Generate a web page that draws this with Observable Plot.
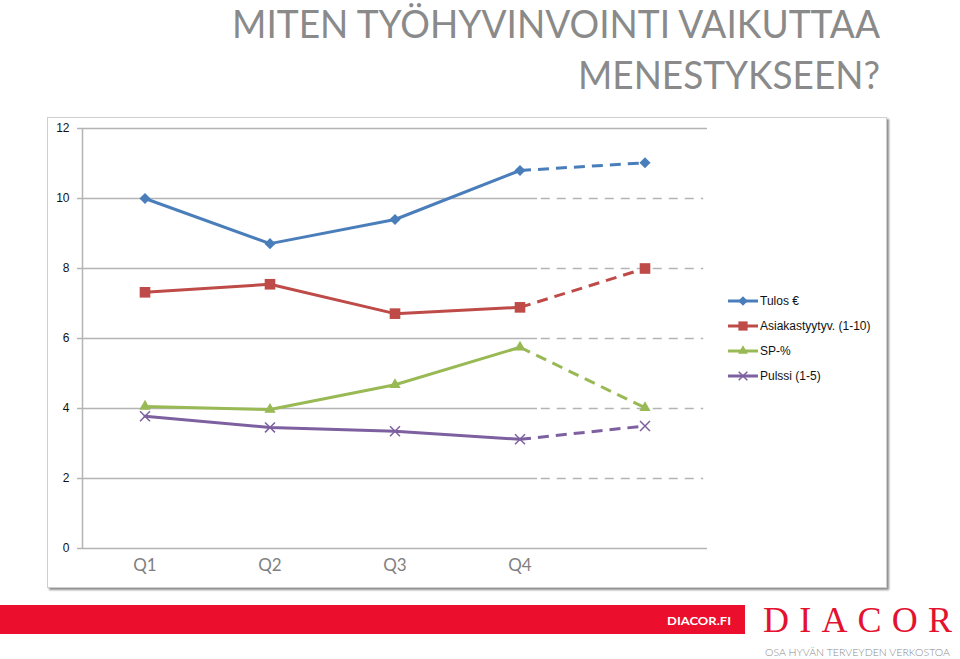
<!DOCTYPE html>
<html>
<head>
<meta charset="utf-8">
<script src="https://cdn.jsdelivr.net/npm/d3@7"></script>
<script src="https://cdn.jsdelivr.net/npm/@observablehq/plot@0.6"></script>
<style>
html, body { margin: 0; padding: 0; background: #fff; }
#wrap { position: relative; width: 960px; height: 659px; overflow: hidden; font-family: "Liberation Sans", Arial, sans-serif; }
#frame { position: absolute; left: 47px; top: 117px; width: 840px; height: 471px; box-sizing: border-box;
  border: 1px solid #cfcfcf; box-shadow: 2px 2px 2px rgba(0,0,0,0.45); background: #fff; }
#title { position: absolute; left: 0; top: 0; }
#chart { position: absolute; left: 0; top: 110px; }
#legend { position: absolute; left: 720px; top: 286px; }
#footer { position: absolute; left: 0; top: 595px; }
</style>
</head>
<body>
<div id="wrap">
  <svg id="title" width="960" height="100"></svg>
  <div id="frame"></div>
  <div id="chart"></div>
  <svg id="legend" width="200" height="105"></svg>
  <svg id="footer" width="960" height="64"></svg>
</div>
<script>
// ---- data ----
const quarters = ["Q1", "Q2", "Q3", "Q4", ""];
const seriesNames = ["Tulos €", "Asiakastyytyv. (1-10)", "SP-%", "Pulssi (1-5)"];
const tulos   = [10.0, 8.71, 9.4, 10.8, 11.02];
const asiakas = [7.32, 7.55, 6.71, 6.89, 8.0];
const sp      = [4.06, 3.97, 4.68, 5.75, 4.02];
const pulssi  = [3.78, 3.46, 3.35, 3.12, 3.5];
const yTicks  = [0, 2, 4, 6, 8, 10, 12];
const titleLines = ["MITEN TYÖHYVINVOINTI VAIKUTTAA", "MENESTYKSEEN?"];
const footerTexts = ["DIACOR.FI", "DIACOR", "OSA HYVÄN TERVEYDEN VERKOSTOA"];

// ---- styles ----
const seriesValues = [tulos, asiakas, sp, pulssi];
const colors = ["#4a7ebb", "#be4b48", "#98b954", "#7d60a0"];
const symbols = ["diamond2", "square", "triangle", "times"];
const symbolRadius = [5, 6, 4.2, 4.6];
const forecastFrom = 3; // lines are dashed from Q4 onwards
const gridColor = "#b4b4b4";
const font = '"Liberation Sans", Arial, sans-serif';

const rows = seriesNames.flatMap((s, k) => seriesValues[k].map((v, i) => ({series: s, i, v})));
const solid = rows.filter(d => d.i <= forecastFrom);
const dashed = rows.filter(d => d.i >= forecastFrom);

const xDomain = [-0.5, quarters.length - 0.5];
const gridSolidEnd = 3.14, gridDashStart = 3.17, gridDashEnd = 4.47;
const innerTicks = yTicks.filter(t => t > yTicks[0] && t < yTicks[yTicks.length - 1]);
const edgeTicks = [yTicks[0], yTicks[yTicks.length - 1]];
const labelIdx = quarters.map((q, i) => i).filter(i => quarters[i] !== "");

const chart = Plot.plot({
  width: 960, height: 480,
  marginLeft: 82, marginRight: 253, marginTop: 18, marginBottom: 42,
  style: {fontFamily: font, background: "transparent", overflow: "visible"},
  x: {type: "linear", domain: xDomain},
  y: {domain: [yTicks[0], yTicks[yTicks.length - 1]]},
  color: {domain: seriesNames, range: colors},
  marks: [
    Plot.ruleY(innerTicks, {x1: xDomain[0], x2: gridSolidEnd, stroke: gridColor, strokeWidth: 1.5}),
    Plot.ruleY(innerTicks, {x1: gridDashStart, x2: gridDashEnd, stroke: gridColor, strokeWidth: 1.5, strokeDasharray: "9,7"}),
    Plot.ruleY(edgeTicks, {stroke: gridColor, strokeWidth: 1.5}),
    Plot.ruleX([xDomain[0]], {stroke: gridColor, strokeWidth: 1.5}),
    Plot.axisY({ticks: yTicks, tickSize: 5, tickPadding: 8, fontSize: 12, fill: "#111", stroke: gridColor, strokeWidth: 1.5, label: null}),
    Plot.axisX({ticks: labelIdx, tickFormat: i => quarters[i], tickSize: 0, tickPadding: 10, fontSize: 17, fill: "#7f7f7f", label: null, fontFamily: 'Lato, "Open Sans", sans-serif'}),
    Plot.line(solid, {x: "i", y: "v", z: "series", stroke: "series", strokeWidth: 3}),
    Plot.line(dashed, {x: "i", y: "v", z: "series", stroke: "series", strokeWidth: 3, strokeDasharray: "11,7", strokeLinecap: "butt"}),
    ...seriesNames.map((s, k) => Plot.dot(rows.filter(d => d.series === s), {
      x: "i", y: "v", symbol: symbols[k], r: symbolRadius[k],
      fill: symbols[k] === "times" ? "none" : colors[k],
      stroke: symbols[k] === "times" ? colors[k] : "none",
      strokeWidth: 1.5
    }))
  ]
});
document.getElementById("chart").appendChild(chart);

// ---- legend ----
const symbolTypes = {diamond2: d3.symbolDiamond2, square: d3.symbolSquare, triangle: d3.symbolTriangle, times: d3.symbolTimes};
const leg = d3.select("#legend");
seriesNames.forEach((s, k) => {
  const y = 15 + k * 25;
  const g = leg.append("g");
  g.append("line").attr("x1", 8).attr("x2", 38).attr("y1", y).attr("y2", y)
    .attr("stroke", colors[k]).attr("stroke-width", 3);
  const isTimes = symbols[k] === "times";
  g.append("path")
    .attr("d", d3.symbol(symbolTypes[symbols[k]], Math.PI * symbolRadius[k] * symbolRadius[k] * 0.75)())
    .attr("transform", `translate(23,${y})`)
    .attr("fill", isTimes ? "none" : colors[k])
    .attr("stroke", isTimes ? colors[k] : "none")
    .attr("stroke-width", 1.5);
  g.append("text").attr("x", 40).attr("y", y).attr("dy", "0.35em")
    .attr("font-family", font).attr("font-size", 12).attr("fill", "#111").text(s);
});

// ---- title ----
const tt = d3.select("#title");
const titleSpec = [{y: 38, len: 648}, {y: 89, len: 302}];
titleLines.forEach((t, k) => {
  tt.append("text").attr("x", 880).attr("y", titleSpec[k].y).attr("text-anchor", "end")
    .attr("font-family", 'Lato, "Open Sans", sans-serif').attr("font-weight", 400)
    .attr("font-size", 39).attr("fill", "#8a8a8a")
    .attr("textLength", titleSpec[k].len).attr("lengthAdjust", "spacingAndGlyphs").text(t);
});

// ---- footer ----
const ft = d3.select("#footer");
ft.append("rect").attr("x", 0).attr("y", 10).attr("width", 745).attr("height", 29).attr("fill", "#ec0f2d");
ft.append("text").attr("x", 667).attr("y", 29.5).attr("font-family", 'Lato, "Open Sans", sans-serif')
  .attr("font-weight", 700).attr("font-size", 12).attr("fill", "#fff")
  .attr("textLength", 64).attr("lengthAdjust", "spacingAndGlyphs").text(footerTexts[0]);
ft.append("text").attr("x", 763).attr("y", 37).attr("font-family", '"Liberation Serif", "DejaVu Serif", serif')
  .attr("font-size", 36).attr("fill", "#e3122f")
  .attr("textLength", 189).attr("lengthAdjust", "spacing").text(footerTexts[1]);
ft.append("text").attr("x", 765).attr("y", 61).attr("font-family", 'Lato, "Open Sans", sans-serif')
  .attr("font-weight", 300).attr("font-size", 9.5).attr("fill", "#8a8a8a")
  .attr("textLength", 185).attr("lengthAdjust", "spacingAndGlyphs").text(footerTexts[2]);
</script>
</body>
</html>
